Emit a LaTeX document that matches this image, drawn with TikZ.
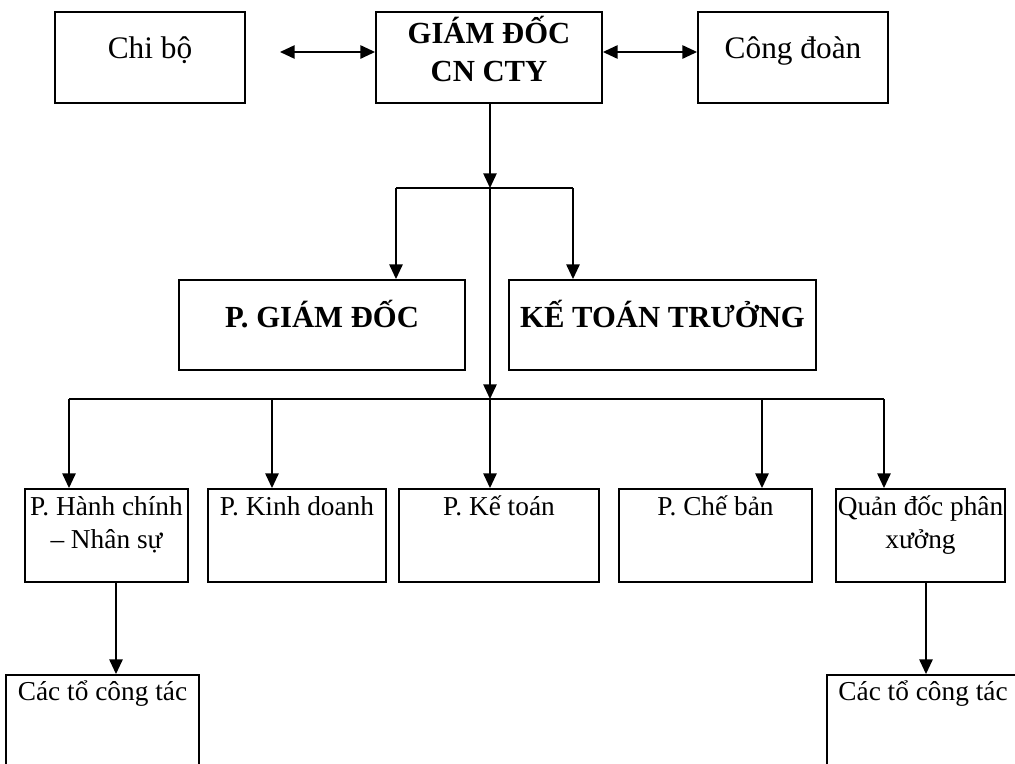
\documentclass[tikz,border=0pt]{standalone}
\usepackage{fontspec}
\setmainfont{Liberation Serif}
\usepackage{tikz}
\usetikzlibrary{arrows.meta, positioning}

\tikzset{
  box/.style = {draw, line width=1.4pt, inner sep=0pt},
  big/.style = {font=\fontsize{23.5}{28.5}\selectfont},
  bigbold/.style = {font=\fontsize{23}{28.5}\selectfont\bfseries},
  small/.style = {font=\fontsize{20.5}{24.75}\selectfont},
  link/.style = {line width=1.2pt},
  tip/.tip = {Triangle[length=11pt, width=10pt]},
  arr/.style = {link, -tip},
  darr/.style = {link, tip-tip},
}

\begin{document}
\begin{tikzpicture}[x=0.75pt, y=-0.75pt]
\useasboundingbox (0,0) rectangle (1015,764);
\clip (0,0) rectangle (1015,764);

% top row
\node (chibo) [box, minimum width=142.5pt, minimum height=68.25pt] at (150,57.5) {};
\node (gd) [box, minimum width=169.5pt, minimum height=68.25pt] at (489,57.5) {};
\node (congdoan) [box, minimum width=142.5pt, minimum height=68.25pt] at (793,57.5) {};

\node (chibo-t) [big, anchor=base] at (150,58) {Chi bộ};
\node (gd-t) [bigbold, anchor=base, align=center] at (489,81) {GIÁM ĐỐC\\CN CTY};
\node (congdoan-t) [big, anchor=base] at (793,58) {Công đoàn};

% second row
\node (pgd) [box, minimum width=214.5pt, minimum height=67.5pt] at (322,325) {};
\node (ktt) [box, minimum width=230.25pt, minimum height=67.5pt] at (662.5,325) {};

\node (pgd-t) [bigbold, anchor=base] at (322,327) {P. GIÁM ĐỐC};
\node (ktt-t) [bigbold, anchor=base] at (662.5,327) {KẾ TOÁN TRƯỞNG};

% departments
\node (hc) [box, minimum width=122.25pt, minimum height=69.75pt] at (106.5,535.5) {};
\node (kd) [box, minimum width=133.5pt, minimum height=69.75pt] at (297,535.5) {};
\node (kt) [box, minimum width=150pt, minimum height=69.75pt] at (499,535.5) {};
\node (cb) [box, minimum width=144.75pt, minimum height=69.75pt] at (715.5,535.5) {};
\node (qd) [box, minimum width=126.75pt, minimum height=69.75pt] at (920.5,535.5) {};

\node (hc-t) [small, anchor=base, align=center] at (106.5,548) {P. Hành chính\\– Nhân sự};
\node (kd-t) [small, anchor=base] at (297,515) {P. Kinh doanh};
\node (kt-t) [small, anchor=base] at (499,515) {P. Kế toán};
\node (cb-t) [small, anchor=base] at (715.5,515) {P. Chế bản};
\node (qd-t) [small, anchor=base, align=center] at (920.5,548) {Quản đốc phân\\xưởng};

% teams
\node (to1) [box, minimum width=144.75pt, minimum height=108.75pt] at (102.5,747.5) {};
\node (to2) [box, minimum width=144pt, minimum height=108.75pt] at (923,747.5) {};

\node (to1-t) [small, anchor=base] at (102.5,700) {Các tổ công tác};
\node (to2-t) [small, anchor=base] at (923,700) {Các tổ công tác};

% Arrows
\coordinate (left) at (280,52);
\coordinate (j1) at (490,188);
\coordinate (j2) at (490,399);
\coordinate (b1) at (396,188);
\coordinate (b2) at (573,188);
\coordinate (bus-l) at (69,399);
\coordinate (bus-r) at (884,399);

\draw [darr] (left) -- (gd.west |- left);
\draw [darr] (gd.east |- left) -- (congdoan.west |- left);

\draw [arr] (gd.south -| j1) -- (j1);
\draw [arr] (j1) -- (j2);
\draw [link] (b1) -- (b2);
\draw [arr] (b1) -- (b1 |- pgd.north);
\draw [arr] (b2) -- (b2 |- ktt.north);

\draw [link] (bus-l) -- (bus-r);
\foreach \x/\n in {69/hc, 272/kd, 490/kt, 762/cb, 884/qd}
  \draw [arr] (\x,399) -- (\x,0 |- \n.north);

\draw [arr] (hc.south -| 116,0) -- (to1.north -| 116,0);
\draw [arr] (qd.south -| 926,0) -- (to2.north -| 926,0);
\end{tikzpicture}
\end{document}
